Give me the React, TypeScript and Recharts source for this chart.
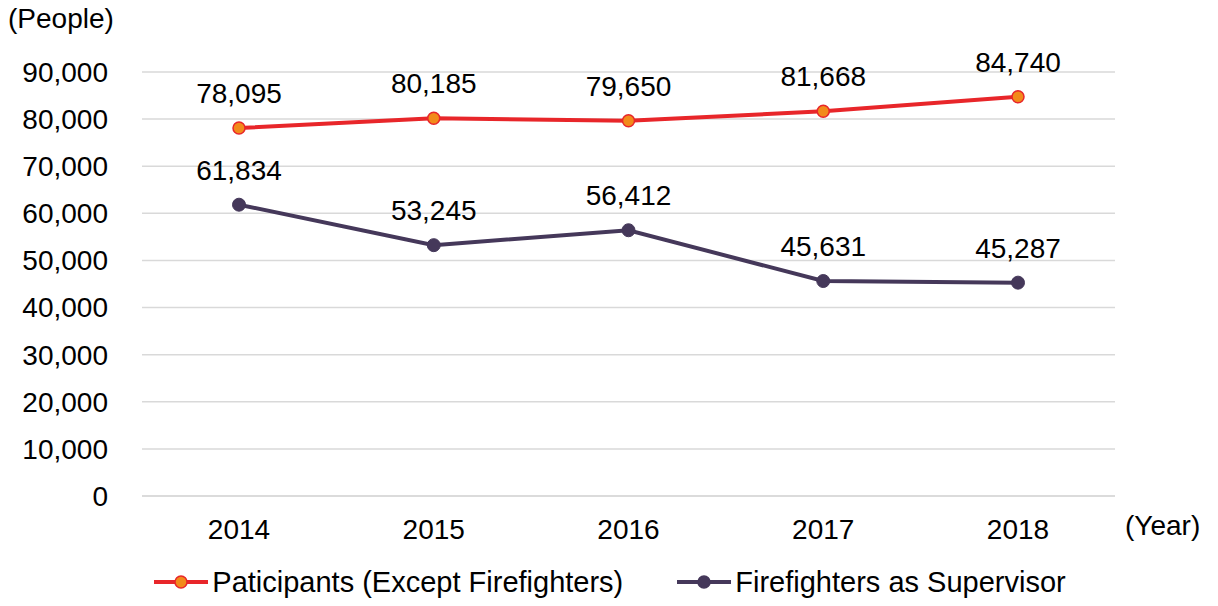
import React from 'react';
import { CartesianGrid, LabelList, Legend, Line, LineChart, XAxis, YAxis } from 'recharts';

const years = ['2014', '2015', '2016', '2017', '2018'];
const participants = [78095, 80185, 79650, 81668, 84740];
const supervisors = [61834, 53245, 56412, 45631, 45287];
const yTicks = [0, 10000, 20000, 30000, 40000, 50000, 60000, 70000, 80000, 90000];

const data = years.map((year, i) => ({
  year,
  participants: participants[i],
  supervisors: supervisors[i],
}));

const FONT = '"Liberation Sans", Arial, sans-serif';
const RED = '#e8262a';
const ORANGE = '#f28a1a';
const PURPLE = '#45385a';

const fmt = (v: number) => v.toLocaleString('en-US');

const renderLabel = (props: any) => {
  const { x, y, value } = props;
  return (
    <text x={x} y={y - 25} textAnchor="middle" fontSize={28} fontFamily={FONT} fill="#000">
      {fmt(value)}
    </text>
  );
};

const legendItems = [
  { name: 'Paticipants (Except Firefighters)', stroke: RED, fill: ORANGE },
  { name: 'Firefighters as Supervisor', stroke: PURPLE, fill: PURPLE },
];

const renderLegend = () => (
  <div
    style={{
      display: 'flex',
      justifyContent: 'center',
      gap: 52,
      fontFamily: FONT,
      fontSize: 29,
      lineHeight: '34px',
    }}
  >
    {legendItems.map((item) => (
      <div key={item.name} style={{ display: 'flex', alignItems: 'center' }}>
        <svg width={58} height={20} style={{ marginRight: 2 }}>
          <line x1={2} y1={10} x2={56} y2={10} stroke={item.stroke} strokeWidth={4} />
          <circle cx={29} cy={10} r={6} fill={item.fill} stroke={item.stroke} strokeWidth={1.5} />
        </svg>
        <span style={{ color: '#000' }}>{item.name}</span>
      </div>
    ))}
  </div>
);

export default function App() {
  return (
    <div style={{ position: 'absolute', left: 0, top: 0, width: 1218, height: 606, background: '#fff' }}>
      <LineChart width={1218} height={606} data={data} margin={{ top: 72, right: 103, left: 0, bottom: 0 }}>
        <CartesianGrid vertical={false} stroke="#d9d9d9" strokeWidth={1.5} />
        <XAxis
          dataKey="year"
          padding={{ left: 97, right: 97 }}
          tickSize={0}
          tickMargin={23}
          axisLine={{ stroke: '#d9d9d9', strokeWidth: 1.5 }}
          tick={{ fontSize: 28, fontFamily: FONT, fill: '#000' }}
          height={76}
        />
        <YAxis
          domain={[0, 90000]}
          ticks={yTicks}
          width={142}
          tickSize={0}
          tickMargin={34}
          axisLine={false}
          tickFormatter={fmt}
          tick={{ fontSize: 28, fontFamily: FONT, fill: '#000' }}
        />
        <Legend
          verticalAlign="bottom"
          content={renderLegend}
          wrapperStyle={{ bottom: 7, left: 0, width: 1218 }}
        />
        <Line
          type="linear"
          dataKey="participants"
          stroke={RED}
          strokeWidth={4}
          dot={{ r: 6, fill: ORANGE, stroke: RED, strokeWidth: 1.5 }}
          isAnimationActive={false}
        >
          <LabelList dataKey="participants" content={renderLabel} />
        </Line>
        <Line
          type="linear"
          dataKey="supervisors"
          stroke={PURPLE}
          strokeWidth={4}
          dot={{ r: 6.5, fill: PURPLE, stroke: PURPLE, strokeWidth: 1 }}
          isAnimationActive={false}
        >
          <LabelList dataKey="supervisors" content={renderLabel} />
        </Line>
      </LineChart>
      <div style={{ position: 'absolute', left: 8, top: 5, fontFamily: FONT, fontSize: 28, lineHeight: 1 }}>
        (People)
      </div>
      <div style={{ position: 'absolute', left: 1125, top: 512, fontFamily: FONT, fontSize: 28, lineHeight: 1 }}>
        (Year)
      </div>
    </div>
  );
}
